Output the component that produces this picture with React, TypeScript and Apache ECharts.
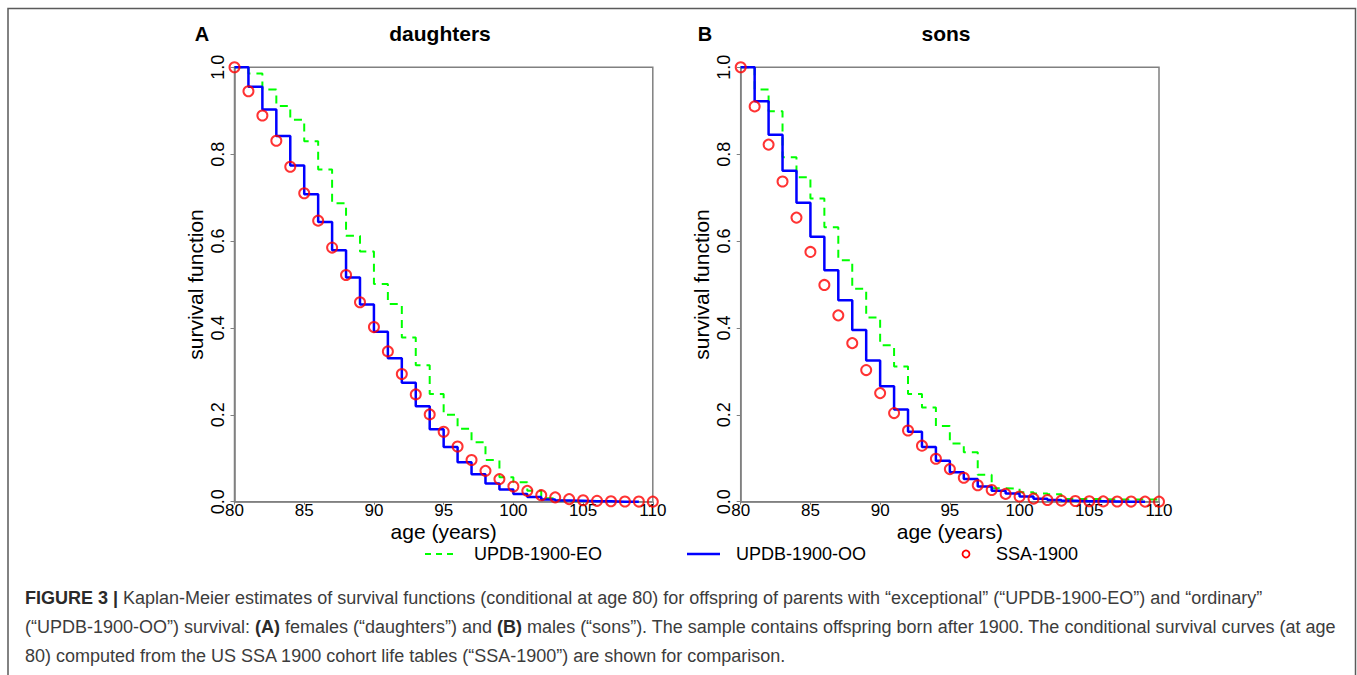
import React, { useEffect, useRef } from "react";
import * as echarts from "echarts";

// ages (years) at which each Kaplan-Meier value starts
const AGES = [80, 81, 82, 83, 84, 85, 86, 87, 88, 89, 90, 91, 92, 93, 94, 95, 96, 97, 98, 99, 100, 101, 102, 103, 104, 105, 106, 107, 108, 109, 110];

// Panel A: daughters
const DAU_EO = [1.0, 0.986, 0.949, 0.911, 0.879, 0.830, 0.765, 0.687, 0.612, 0.576, 0.501, 0.455, 0.378, 0.314, 0.248, 0.200, 0.168, 0.137, 0.096, 0.056, 0.045, 0.025, 0.008, 0.003, 0.001, 0.0];
const DAU_OO = [1.0, 0.955, 0.903, 0.842, 0.774, 0.708, 0.644, 0.579, 0.516, 0.454, 0.391, 0.330, 0.274, 0.220, 0.167, 0.126, 0.091, 0.063, 0.042, 0.028, 0.018, 0.011, 0.005, 0.003, 0.002, 0.001, 0.001, 0.0, 0.0, 0.0];
const DAU_SSA = [1.0, 0.945, 0.889, 0.831, 0.771, 0.710, 0.647, 0.585, 0.522, 0.459, 0.402, 0.346, 0.294, 0.247, 0.201, 0.161, 0.127, 0.096, 0.071, 0.052, 0.035, 0.025, 0.015, 0.010, 0.006, 0.0034, 0.002, 0.001, 0.0006, 0.0003, 0.0001];

// Panel B: sons
const SON_EO = [1.0, 0.949, 0.899, 0.793, 0.747, 0.698, 0.632, 0.556, 0.490, 0.424, 0.360, 0.311, 0.248, 0.217, 0.174, 0.134, 0.114, 0.062, 0.031, 0.030, 0.022, 0.019, 0.017, 0.006, 0.006, 0.006, 0.005, 0.005, 0.005, 0.005, 0.005];
const SON_OO = [1.0, 0.922, 0.845, 0.762, 0.688, 0.610, 0.533, 0.464, 0.395, 0.325, 0.266, 0.212, 0.161, 0.126, 0.094, 0.068, 0.052, 0.035, 0.025, 0.019, 0.012, 0.007, 0.004, 0.002, 0.001, 0.001, 0.0005, 0.0, 0.0, 0.0];
const SON_SSA = [1.0, 0.910, 0.822, 0.737, 0.654, 0.575, 0.499, 0.429, 0.365, 0.303, 0.250, 0.204, 0.164, 0.129, 0.099, 0.075, 0.055, 0.038, 0.027, 0.018, 0.012, 0.007, 0.004, 0.0025, 0.0015, 0.001, 0.0007, 0.0005, 0.0003, 0.0002, 0.0001];

const SERIES_NAMES = ["UPDB-1900-EO", "UPDB-1900-OO", "SSA-1900"];
const PANEL_LETTERS = ["A", "B"];
const PANEL_TITLES = ["daughters", "sons"];
const X_NAME = "age (years)";
const Y_NAME = "survival function";

const CAPTION = [
  "{b|FIGURE 3 |} Kaplan-Meier estimates of survival functions (conditional at age 80) for offspring of parents with \u201cexceptional\u201d (\u201cUPDB-1900-EO\u201d) and \u201cordinary\u201d",
  "(\u201cUPDB-1900-OO\u201d) survival: {b|(A)} females (\u201cdaughters\u201d) and {b|(B)} males (\u201csons\u201d). The sample contains offspring born after 1900. The conditional survival curves (at age",
  "80) computed from the US SSA 1900 cohort life tables (\u201cSSA-1900\u201d) are shown for comparison.",
];

const FONT = "'Liberation Sans', Arial, Helvetica, sans-serif";
const GREEN = "#00ff00";
const BLUE = "#0000ff";
const RED = "#ff0000";
const AXIS_GREY = "#808080";

const pairs = (vals: number[]) => vals.map((v, i) => [AGES[i], v]);

export default function App() {
  const ref = useRef<HTMLDivElement>(null);
  useEffect(() => {
    if (!ref.current) return;
    const chart = echarts.init(ref.current, null, { renderer: "svg" });
    const lefts = [234.5, 740.7];
    const gridW = 418.3;
    const top = 67.3;
    const gridH = 434.4;

    const grids = lefts.map((l) => ({
      left: l,
      top,
      width: gridW,
      height: gridH,
      show: true,
      borderColor: AXIS_GREY,
      borderWidth: 1.5,
      backgroundColor: "transparent",
    }));

    const xAxes = [0, 1].map((g) => ({
      type: "value",
      gridIndex: g,
      min: 80,
      max: 110,
      interval: 5,
      name: X_NAME,
      nameLocation: "middle",
      nameGap: 22,
      nameMoveOverlap: false,
      nameTextStyle: { fontFamily: FONT, fontSize: 21, lineHeight: 16, color: "#000" },
      axisLine: { show: true, lineStyle: { color: AXIS_GREY, width: 1.5 } },
      axisTick: { show: true, length: 3, lineStyle: { color: AXIS_GREY, width: 1 } },
      axisLabel: { margin: 1, fontFamily: FONT, fontSize: 17, lineHeight: 16, color: "#000", showMinLabel: true, showMaxLabel: true },
      splitLine: { show: false },
    }));

    const yAxes = [0, 1].map((g) => ({
      type: "value",
      gridIndex: g,
      min: 0,
      max: 1,
      interval: 0.2,
      name: Y_NAME,
      nameLocation: "middle",
      nameGap: 31,
      nameMoveOverlap: false,
      nameTextStyle: { fontFamily: FONT, fontSize: 21, lineHeight: 16, color: "#000" },
      axisLine: { show: true, lineStyle: { color: AXIS_GREY, width: 1.5 } },
      axisTick: { show: true, length: 4, lineStyle: { color: AXIS_GREY, width: 1 } },
      axisLabel: {
        rotate: 90,
        margin: 8,
        fontFamily: FONT,
        fontSize: 18,
        color: "#000",
        formatter: (v: number) => v.toFixed(1),
        showMinLabel: true,
        showMaxLabel: true,
      },
      splitLine: { show: false },
    }));

    const panelData = [
      [DAU_EO, DAU_OO, DAU_SSA],
      [SON_EO, SON_OO, SON_SSA],
    ];

    const series: any[] = [];
    panelData.forEach((set, g) => {
      series.push({
        name: SERIES_NAMES[0],
        type: "line",
        xAxisIndex: g,
        yAxisIndex: g,
        step: "end",
        symbol: "none",
        data: pairs(set[0]),
        lineStyle: { color: GREEN, width: 2, type: [8, 6] },
        itemStyle: { color: GREEN },
        z: 2,
      });
      series.push({
        name: SERIES_NAMES[1],
        type: "line",
        xAxisIndex: g,
        yAxisIndex: g,
        step: "end",
        symbol: "none",
        data: pairs(set[1]),
        lineStyle: { color: BLUE, width: 2.5 },
        itemStyle: { color: BLUE },
        z: 3,
      });
      series.push({
        name: SERIES_NAMES[2],
        type: "scatter",
        xAxisIndex: g,
        yAxisIndex: g,
        symbol: "circle",
        symbolSize: 10,
        data: pairs(set[2]),
        itemStyle: { color: "rgba(0,0,0,0)", borderColor: RED, borderWidth: 2 },
        z: 4,
      });
    });

    const graphic: any[] = [];
    // figure frame (open at the bottom)
    graphic.push({
      type: "polyline",
      shape: { points: [[8, 675], [8, 8.5], [1355.5, 8.5], [1355.5, 675]] },
      style: { stroke: "#5a5a5a", lineWidth: 1.5, fill: "none" },
      silent: true,
    });
    // panel letters and titles
    const letterX = [202, 705];
    const titleX = [440, 946];
    [0, 1].forEach((i) => {
      graphic.push({
        type: "text",
        x: letterX[i],
        y: 33.5,
        style: { text: PANEL_LETTERS[i], font: `bold 20px ${FONT}`, fill: "#000", align: "center", verticalAlign: "middle" },
      });
      graphic.push({
        type: "text",
        x: titleX[i],
        y: 33.5,
        style: { text: PANEL_TITLES[i], font: `bold 21px ${FONT}`, fill: "#000", align: "center", verticalAlign: "middle" },
      });
    });
    // legend
    const legY = 554;
    graphic.push({
      type: "line",
      shape: { x1: 425, y1: legY, x2: 458, y2: legY },
      style: { stroke: GREEN, lineWidth: 2, lineDash: [6, 5] },
    });
    graphic.push({
      type: "line",
      shape: { x1: 687, y1: legY, x2: 720, y2: legY },
      style: { stroke: BLUE, lineWidth: 2.5 },
    });
    graphic.push({
      type: "circle",
      shape: { cx: 966, cy: legY, r: 3.5 },
      style: { stroke: RED, lineWidth: 1.8, fill: "none" },
    });
    const legTextX = [474, 736, 996];
    SERIES_NAMES.forEach((n, i) => {
      graphic.push({
        type: "text",
        x: legTextX[i],
        y: legY,
        style: { text: n, font: `18px ${FONT}`, fill: "#000", align: "left", verticalAlign: "middle" },
      });
    });

    // caption
    const capY = [598, 627, 656];
    CAPTION.forEach((line, i) => {
      graphic.push({
        type: "text",
        x: 25,
        y: capY[i],
        style: {
          text: line,
          font: `18px ${FONT}`,
          fill: "#3c3c3c",
          align: "left",
          verticalAlign: "middle",
          rich: {
            b: { fontFamily: FONT, fontSize: 18, fontWeight: "bold", fill: "#2a2a2a" },
          },
        },
      });
    });

    chart.setOption({
      animation: false,
      backgroundColor: "#ffffff",
      textStyle: { fontFamily: FONT },
      grid: grids,
      xAxis: xAxes,
      yAxis: yAxes,
      series,
      graphic,
    });
    return () => chart.dispose();
  }, []);
  return (
    <div
      ref={ref}
      style={{ position: "absolute", left: 0, top: 0, width: 1357, height: 675, background: "#fff" }}
    />
  );
}
